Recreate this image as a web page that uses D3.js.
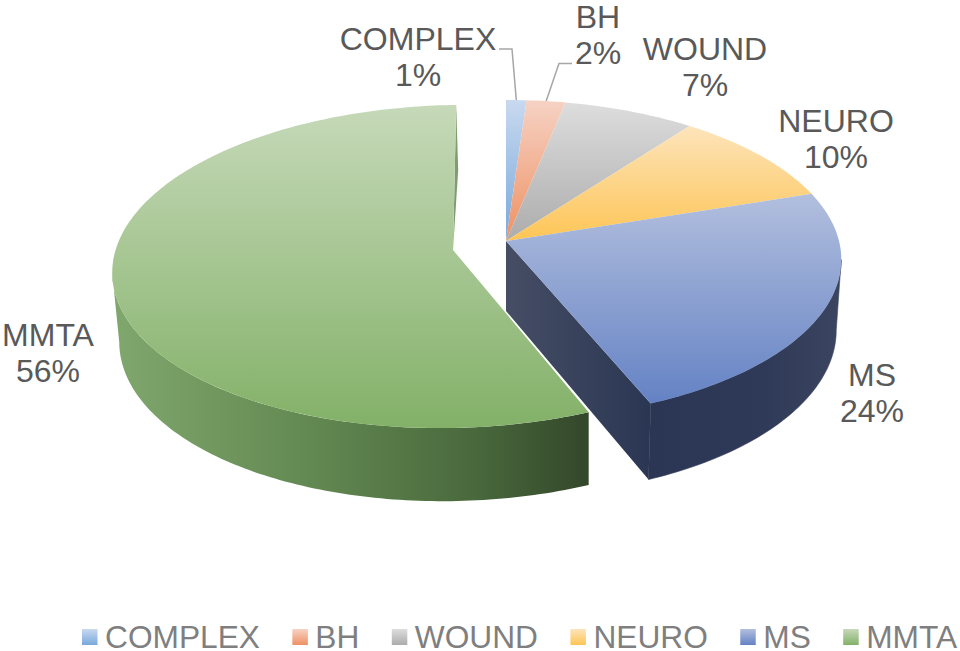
<!DOCTYPE html>
<html>
<head>
<meta charset="utf-8">
<script src="https://cdnjs.cloudflare.com/ajax/libs/d3/7.8.5/d3.min.js"></script>
<style>
html,body{margin:0;padding:0;background:#fff;overflow:hidden}
svg{display:block}
text{font-family:"Liberation Sans",Arial,sans-serif}
</style>
</head>
<body>
<svg id="chart" width="960" height="651" viewBox="0 0 960 651"></svg>
<script>
// Data (share of the whole, percent)
const categories = ["COMPLEX","BH","WOUND","NEURO","MS","MMTA"];
const values = [1.1,2.1,7.1,9.7,23.7,56.4];

// Styles
const topLight = ["#c8d9ef","#f6d2c4","#dddddd","#fde4bb","#b2bfde","#c6d9b9"];
const topDark  = ["#79a8dc","#ee9163","#acacac","#fdc555","#6482c4","#83b168"];
const labelCentres = [[418,50],[598,28],[705,60],[836,132],[872,386],[48,346]];

const svg = d3.select("#chart");
const defs = svg.append("defs");
const deg = Math.PI/180;

function vGrad(id,a,b){
  const g = defs.append("linearGradient").attr("id",id).attr("x1",0).attr("y1",0).attr("x2",0).attr("y2",1);
  g.append("stop").attr("offset",0).attr("stop-color",a);
  g.append("stop").attr("offset",1).attr("stop-color",b);
}
function hGrad(id,stops){
  const g = defs.append("linearGradient").attr("id",id).attr("x1",0).attr("y1",0).attr("x2",1).attr("y2",0);
  stops.forEach(s=>g.append("stop").attr("offset",s[0]).attr("stop-color",s[1]));
}
categories.forEach((c,i)=>vGrad("top"+i,topLight[i],topDark[i]));
hGrad("wallGreen",[[0,"#80a76d"],[0.4,"#648a53"],[0.75,"#4a6a3d"],[1,"#33472a"]]);
hGrad("cutBlue",[[0,"#464e65"],[1,"#2a3653"]]);
hGrad("wallBlue",[[0,"#2a3653"],[0.6,"#2f3a58"],[1,"#3b4560"]]);

// Perspective projection of a pie disc: angle (clockwise from the top) to screen
function projector(x0,y0,B,A,k,shear=0){
  return (a,r=1)=>{
    const u=r*Math.sin(a), v=r*Math.cos(a), w=1+k*v;
    const dx=B*u/w;
    return [x0+dx, y0-A*v/w+shear*dx];
  };
}
const blueTop = projector(506,241,333,157.4,0.116);
const blueBot = projector(506,311,328,163.3,0.116);
const greenTop = projector(453,250,339,159.8,0.102,-0.018);
const greenBot = projector(455,319,334,163.5,0.102,-0.018);

const pie = d3.pie().sort(null).value(d=>d);
const arcs = pie(values);
const greenStartSkew = 1.6*deg, greenEndSkew = 0.6*deg;

const line = d3.line();
function arcPts(p,a0,a1){
  const n=Math.max(2,Math.ceil(Math.abs(a1-a0)/deg));
  return d3.range(n+1).map(i=>p(a0+(a1-a0)*i/n));
}
function sector(p,a0,a1){ return line([p(0,0),...arcPts(p,a0,a1)])+"Z"; }
function wall(pT,pB,a0,a1){ return line([...arcPts(pT,a0,a1),...arcPts(pB,a1,a0)])+"Z"; }

const gS = arcs[5].startAngle+greenStartSkew, gE = arcs[5].endAngle+greenEndSkew;
const bE = arcs[4].endAngle;

// Green slice, side faces
svg.append("path").attr("d",line([greenTop(gE),greenBot(gE),greenTop(0,0)])+"Z").attr("fill","#7f9c70");
svg.append("path").attr("d",wall(greenTop,greenBot,gS,264*deg)).attr("fill","url(#wallGreen)");

// Exploded group, side faces
svg.append("path").attr("d",wall(blueTop,blueBot,96.7*deg,bE)).attr("fill","url(#wallBlue)").attr("stroke","url(#wallBlue)").attr("stroke-width",0.6);
svg.append("path").attr("d",line([blueTop(0,0),blueTop(bE),blueBot(bE),blueBot(0,0)])+"Z").attr("fill","url(#cutBlue)");

// Top faces
arcs.forEach((d,i)=>{
  const isG = i===5;
  svg.append("path")
    .attr("class","slice")
    .attr("d", isG ? sector(greenTop,gS,gE) : sector(blueTop,d.startAngle,d.endAngle))
    .attr("fill",`url(#top${i})`);
});

// Leader lines for the two narrow slices
const mid = d=>(d.startAngle+d.endAngle)/2;
const lead = [[[499,49],[512,49]],[[572,63.5],[559,63.5]]];
lead.forEach((l,i)=>{
  svg.append("path").attr("fill","none").attr("stroke","#a6a6a6").attr("stroke-width",1.5)
    .attr("d",line([...l,blueTop(mid(arcs[i]))]));
});

// Data labels
const pct = d3.format(".0%");
const total = d3.sum(values);
categories.forEach((c,i)=>{
  const [x,y]=labelCentres[i];
  const t = svg.append("text").attr("text-anchor","middle").attr("font-size",32).attr("fill","#595959");
  t.append("tspan").attr("x",x).attr("y",y).text(c);
  t.append("tspan").attr("x",x).attr("y",y+36).text(pct(values[i]/total));
});

// Legend
let lx = 82;
categories.forEach((c,i)=>{
  svg.append("rect").attr("x",lx).attr("y",629).attr("width",15.5).attr("height",16).attr("fill",`url(#top${i})`);
  const t = svg.append("text").attr("x",lx+23).attr("y",648).attr("font-size",31.7).attr("fill","#7f7f7f").text(c);
  lx += 23 + t.node().getComputedTextLength() + 32.4;
});
</script>
</body>
</html>
